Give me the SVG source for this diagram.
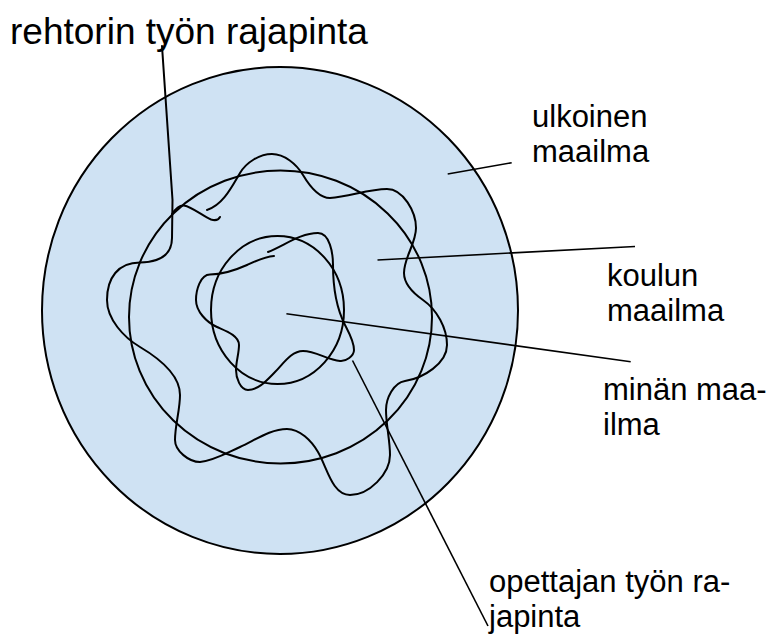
<svg xmlns="http://www.w3.org/2000/svg" width="772" height="637" viewBox="0 0 772 637">
<style>
.lbl{font-family:"Liberation Sans",Arial,sans-serif;font-size:31px;fill:#000}
.title{font-size:37px}
.ring{fill:none;stroke:#000;stroke-width:2}
.wave{fill:none;stroke:#000;stroke-width:2;stroke-linecap:round;stroke-linejoin:round}
.conn{fill:none;stroke:#000;stroke-width:1.6}
</style>
<rect width="772" height="637" fill="#fff"/>
<g id="outer-world">
<ellipse cx="280" cy="310.5" rx="238" ry="243.5" fill="#cfe2f3" stroke="#000" stroke-width="2"/>
</g>
<g id="school-world">
<ellipse class="ring" cx="280.5" cy="317" rx="151.5" ry="146.5"/>
</g>
<g id="my-world">
<ellipse class="ring" cx="277.5" cy="310" rx="66.5" ry="74"/>
</g>
<g id="principal-interface">
<path class="wave" d="M162,46 L172.5,200 L172,238 C172,252 163,262 140,262.5 C118,262.5 107,278 107,300 C107,319 123.6,337.3 140,347 C157.9,357.6 180,374.2 180,395 C180,410 175,425 175,440 C175,451 189,462 200,462 C214,460.6 227,452.8 240,447 C255.3,440.1 270.2,429 287,429 C299.9,429 311.4,440.9 318,452 C327.1,467.4 332.1,495 350,495 C368.9,495 390,473.9 390,455 C390,440 386,425 386,410 C386,398.4 393.5,382.7 405,381 C423.2,378.2 447,363.4 447,345 C447,328 436.9,309.7 423,300 C414,293.7 404,284 404,273 C404,257.5 416,243.5 416,228 C416,211.8 403.2,189 387,189 C367.8,189 349.2,197 330,198 C318.2,198 309,185.1 303,175 C296.6,164.3 284.5,154 272,154 C259.6,154 246.3,162.3 240,173 C231.6,187.2 222.8,205.2 207,210"/>
<path class="wave" d="M172,214 C176,208 180,205 184,205.5 C192,207 203,216 211,219.5 C216,221 219,219 220,217"/>
</g>
<g id="teacher-interface">
<path class="wave" d="M268,252 C284.6,245.4 300.2,233 318,233 C329.8,233 333,253.2 333,265 C333,285.4 335.8,306.8 345,325 C349,332.9 354,341.1 354,350 C354,355.9 345.9,361.6 340,361 C327.3,359.7 315.8,351 303,351 C291.3,351 283.3,363.7 275,372 C267.3,379.7 258.8,390 248,390 C240.2,390 236,377.8 236,370 C236,361.6 239,353.4 239,345 C239,335.5 225.6,330.9 217,327 C206.6,322.3 196,311.4 196,300 C196,290.3 200.3,274.5 210,274.5 C222.7,274.5 235.4,270.2 247,265 C255.6,261.1 264.5,256.5 274,256"/>
</g>
<g id="connectors">
<line class="conn" x1="447.7" y1="174" x2="511.7" y2="162.7"/>
<line class="conn" x1="377.5" y1="260" x2="635" y2="246.5"/>
<line class="conn" x1="286.4" y1="313.8" x2="630.7" y2="361.7"/>
<line class="conn" x1="352.5" y1="360.5" x2="488" y2="626"/>
</g>
<g id="labels">
<text class="lbl title" x="10" y="44">rehtorin työn rajapinta</text>
<text class="lbl" x="532" y="127">ulkoinen</text>
<text class="lbl" x="532" y="161.5">maailma</text>
<text class="lbl" x="607" y="286">koulun</text>
<text class="lbl" x="607" y="321">maailma</text>
<text class="lbl" x="603" y="400">minän maa-</text>
<text class="lbl" x="603" y="435">ilma</text>
<text class="lbl" x="489" y="592">opettajan työn ra-</text>
<text class="lbl" x="489" y="627">japinta</text>
</g>
</svg>
